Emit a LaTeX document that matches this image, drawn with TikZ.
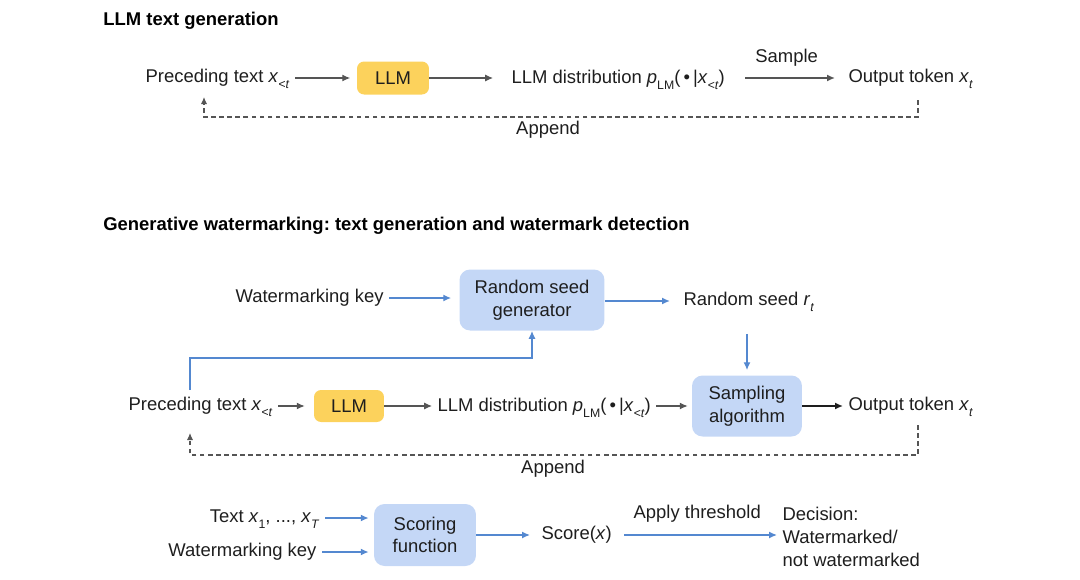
\documentclass[tikz,border=0pt]{standalone}
\usepackage{fontspec}
\setmainfont{Liberation Sans}
\usepackage{xcolor}
\definecolor{llmyellow}{RGB}{252,210,92}
\definecolor{seedblue}{RGB}{196,215,246}
\definecolor{wmblue}{RGB}{84,136,208}
\definecolor{flowgray}{RGB}{85,85,85}
\definecolor{inkgray}{RGB}{30,30,30}
\usepackage{tikz}
\usetikzlibrary{positioning,arrows.meta,calc}
\frenchspacing
\newcommand{\lowsub}[1]{\raisebox{-0.6ex}{\scriptsize #1}}
\newcommand{\xlt}{\textit{x}\lowsub{\textit{<t}}}
\newcommand{\plm}{\textit{p}\lowsub{LM}(\,\textbullet\,|\xlt)}
\tikzset{
	txt/.style={inner sep=3pt, text height=1.6ex, text depth=0.6ex, text=inkgray},
	llmbox/.style={fill=llmyellow, rounded corners=4pt, text=inkgray},
	bluebox/.style={fill=seedblue, rounded corners=6pt, align=center, text=inkgray},
	flow/.style={draw=flowgray, line width=0.6pt, -{Latex[length=4.5pt,width=4pt]}},
	wmflow/.style={draw=wmblue, line width=0.8pt, -{Latex[length=4.5pt,width=4pt]}},
	appendline/.style={draw=flowgray, line width=0.6pt, dash pattern=on 2.6pt off 2pt, -{Latex[length=4pt,width=3.5pt]}}
}

\begin{document}
\begin{tikzpicture}[x=0.02cm, y=-0.02cm, font=\fontsize{10.5}{12.8}\selectfont]
	\useasboundingbox (0,0) rectangle (1080,579);
	
	%%% LLM TEXT GENERATION
	\node[anchor=west, inner sep=0, font=\fontsize{10.5}{12.8}\selectfont\bfseries] (title1) at (103,21) {LLM text generation};
	\node[txt, anchor=west] (prec1) at (140,78) {Preceding text \xlt};
	\node[llmbox, minimum width=1.44cm, minimum height=0.66cm] (llm1) at (393,78) {LLM};
	\node[txt, anchor=west] (dist1) at (506,79) {LLM distribution \plm};
	\node[txt, anchor=west] (out1) at (843,78) {Output token \textit{x}\lowsub{\textit{t}}};
	
	\draw[flow, shorten >=1.3mm] (prec1.east) -- (prec1 -| llm1.west);
	\draw[flow, shorten >=2.6mm] (llm1.east) -- (llm1 -| dist1.west);
	\draw[flow, line width=1pt, shorten <=3mm, shorten >=1.6mm] (dist1.east |- out1) -- (out1.west) node[midway, above=2pt, txt] (sample1) {Sample};
	
	\coordinate (app1r) at (918,100);
	\coordinate (app1l) at (204,97);
	\draw[appendline] (app1r) -- ++(0,17) -| (app1l);
	\node[txt] (append1) at (548,130) {Append};
	
	%%% GENERATIVE WATERMARKING
	\node[anchor=west, inner sep=0, font=\fontsize{10.5}{12.8}\selectfont\bfseries] (title2) at (103,226) {Generative watermarking: text generation and watermark detection};
	\node[txt, anchor=west] (wkey2) at (230,298) {Watermarking key};
	\node[bluebox, minimum width=2.9cm, minimum height=1.22cm] (rsg) at (532,300) {Random seed\\generator};
	\node[txt, anchor=west] (seed) at (678,301) {Random seed \textit{r}\lowsub{\textit{t}}};
	\node[bluebox, minimum width=2.2cm, minimum height=1.22cm] (samp) at (747,406) {Sampling\\algorithm};
	\node[txt, anchor=west] (prec2) at (123,406) {Preceding text \xlt};
	\node[llmbox, minimum width=1.4cm, minimum height=0.64cm] (llm2) at (349,406) {LLM};
	\node[txt, anchor=west] (dist2) at (432,407) {LLM distribution \plm};
	\node[txt, anchor=west] (out2) at (843,406) {Output token \textit{x}\lowsub{\textit{t}}};
	
	\draw[wmflow, shorten >=1.6mm] (wkey2.east) -- (wkey2 -| rsg.west);
	\draw[wmflow, line width=1pt, shorten >=1.6mm] (rsg.east |- seed) -- (seed.west);
	\draw[wmflow, shorten <=3.4mm, shorten >=1mm] (samp.north |- seed.south) -- (samp.north);
	\coordinate (fb2) at (190,390);
	\draw[wmflow] (fb2) -- (190,358) -| (rsg.south);
	
	\draw[flow, shorten >=1.8mm] (prec2.east) -- (prec2 -| llm2.west);
	\draw[flow] (llm2.east) -- (llm2 -| dist2.west);
	\draw[flow, shorten >=0.8mm] (dist2.east |- samp) -- (samp.west);
	\draw[flow, line width=1.1pt, draw=inkgray] (samp.east) -- (samp -| out2.west);
	
	\coordinate (app2r) at (918,425);
	\coordinate (app2l) at (190,433);
	\draw[appendline] (app2r) -- ++(0,30) -| (app2l);
	\node[txt] (append2) at (553,469) {Append};
	
	%%% DETECTION
	\node[txt, anchor=east] (text4) at (325,518) {Text \textit{x}\lowsub{1}, ..., \textit{x}\lowsub{\textit{T}}};
	\node[txt, anchor=east] (wkey4) at (322,552) {Watermarking key};
	\node[bluebox, minimum width=2.04cm, minimum height=1.24cm] (score) at (425,535) {Scoring\\function};
	\node[txt, anchor=west] (scorex) at (536,535) {Score(\textit{x})};
	\node[anchor=west, align=left, inner sep=3pt, text=inkgray, font=\fontsize{10.5}{13}\selectfont] (dec) at (777,537) {Decision:\\Watermarked/\\not watermarked};
	
	\draw[wmflow, shorten >=1mm] (text4.east) -- (text4 -| score.west);
	\draw[wmflow, shorten >=1mm] (wkey4.east) -- (wkey4 -| score.west);
	\draw[wmflow, shorten >=1.2mm] (score.east) -- (score -| scorex.west);
	\draw[wmflow, shorten <=1.4mm] (scorex.east) -- (scorex -| dec.west) node[midway, above=3pt, txt] (thresh) {Apply threshold};
	
\end{tikzpicture}
\end{document}
